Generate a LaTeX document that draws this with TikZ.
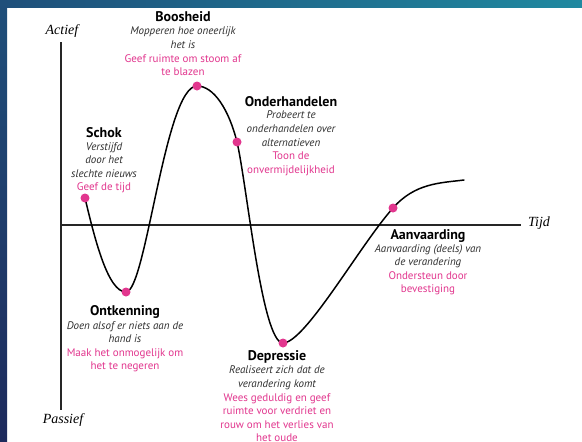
\documentclass[tikz,border=0pt]{standalone}
\usepackage{fontspec}
\setmainfont{PT Sans}
\newfontfamily\handfont{Liberation Serif}
\definecolor{pinkc}{HTML}{E2368E}
\definecolor{bodyc}{HTML}{2E2E2E}
\definecolor{navyA}{HTML}{1F4F7A}
\definecolor{navyB}{HTML}{1D2A5C}
\definecolor{tealA}{HTML}{2089A0}
\newcommand\pinkline[1]{\textcolor{pinkc}{\upshape #1}}
\begin{document}
\begin{tikzpicture}[x=1pt,y=-1pt,
  titlebox/.style={anchor=north,inner sep=0pt,font=\fontsize{14}{15}\selectfont\bfseries,text=black},
  bodybox/.style={anchor=north,inner sep=0pt,align=center,font=\fontsize{11}{13.6}\selectfont\itshape,text=bodyc},
  pdot/.style={circle,fill=pinkc,inner sep=0pt,minimum size=9pt},
  axisline/.style={line width=1.4pt,black!85},
  curveline/.style={line width=1.5pt,black,line cap=round},
  handlabel/.style={inner sep=0pt,font=\handfont\itshape\fontsize{14}{14}\selectfont}]
\useasboundingbox (0,0) rectangle (582,442);
% background
\fill[white] (0,0) rectangle (582,442);
\shade[left color=navyA,right color=tealA] (0,0) rectangle (582,7);
\shade[top color=navyA,bottom color=navyB] (0,0) rectangle (7,442);
% axes
\coordinate (ytop) at (61,42);
\coordinate (ybot) at (61,410);
\coordinate (xleft) at (61,225);
\coordinate (xright) at (521,225);
\draw[axisline] (ytop) -- (ybot);
\draw[axisline] (xleft) -- (xright);
\node[handlabel] (actief) at (62,31) {Actief};
\node[handlabel] (passief) at (63,420) {Passief};
\node[handlabel] (tijd) at (539,223) {Tijd};
% key points
\coordinate (pS) at (85,198);
\coordinate (pO) at (126,292);
\coordinate (pB) at (197,86);
\coordinate (pH) at (237,142);
\coordinate (pD) at (283,343);
\coordinate (pA) at (393,208);
\coordinate (pE) at (464,180);
% curve
\draw[curveline] (pS) .. controls (95,240) and (108,292) .. (pO)
  .. controls (146,292) and (165,86) .. (pB)
  .. controls (214,86) and (229,110) .. (pH)
  .. controls (247,185) and (262,343) .. (pD)
  .. controls (305,343) and (360,245) .. (pA)
  .. controls (415,183) and (440,183) .. (pE);
% dots
\foreach \p in {pS,pO,pB,pH,pD,pA} \node[pdot] (d\p) at (\p) {};
% texts
\node[titlebox] (tB) at (183,11) {Boosheid};
\node[bodybox] (bB) at (183,27) {Mopperen hoe oneerlijk\\het is\\\pinkline{Geef ruimte om stoom af}\\\pinkline{te blazen}};
\node[titlebox] (tS) at (104,127) {Schok};
\node[bodybox] (bS) at (104,142) {Verstijfd\\door het\\slechte nieuws\\\pinkline{Geef de tijd}};
\node[titlebox] (tH) at (291,96) {Onderhandelen};
\node[bodybox] (bH) at (291,111) {Probeert te\\onderhandelen over\\alternatieven\\\pinkline{Toon de}\\\pinkline{onvermijdelijkheid}};
\node[titlebox] (tO) at (125,305) {Ontkenning};
\node[bodybox] (bO) at (125,321) {Doen alsof er niets aan de\\hand is\\\pinkline{Maak het onmogelijk om}\\\pinkline{het te negeren}};
\node[titlebox] (tD) at (277,350) {Depressie};
\node[bodybox] (bD) at (277,366) {Realiseert zich dat de\\verandering komt\\\pinkline{Wees geduldig en geef}\\\pinkline{ruimte voor verdriet en}\\\pinkline{rouw om het verlies van}\\\pinkline{het oude}};
\node[titlebox] (tA) at (428,229) {Aanvaarding};
\node[bodybox] (bA) at (428,244) {Aanvaarding (deels) van\\de verandering\\\pinkline{Ondersteun door}\\\pinkline{bevestiging}};
\end{tikzpicture}
\end{document}
